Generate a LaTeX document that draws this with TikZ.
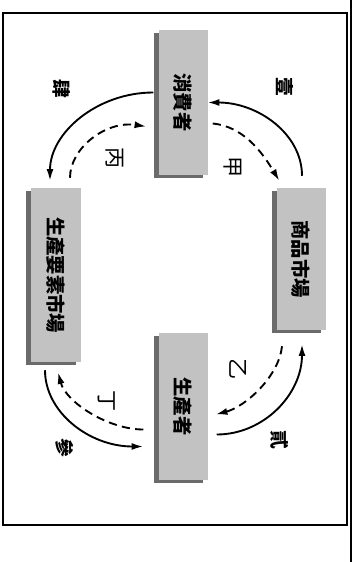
\documentclass[tikz,border=0pt]{standalone}
\usepackage{fontspec}
\usepackage{graphicx}
\newfontfamily\tcfont{Noto Sans CJK TC}
\usetikzlibrary{calc,shadows,arrows.meta}

\tikzset{
  sector/.style={fill=black!24,inner sep=0pt,minimum width=1.47cm,
    drop shadow={shadow xshift=-0.15cm,shadow yshift=-0.09cm,fill=black!58,opacity=1},
    font=\tcfont\bfseries\fontsize{16.5}{16.5}\selectfont},
  flow/.style={line width=1.6pt,-{Latex[length=10pt,width=6pt]}},
  pay/.style={flow,dash pattern=on 7pt off 4.5pt},
  num/.style={rotate=-90,font=\tcfont\bfseries\fontsize{16}{16}\selectfont},
  tag/.style={rotate=-90,font=\tcfont\fontsize{18}{18}\selectfont},
}

\begin{document}
\begin{tikzpicture}[x=0.03cm,y=-0.03cm]
\useasboundingbox (0,0) rectangle (358,562);

% frame
\draw[line width=1.8pt] (3,13) rectangle (347,525);
\draw[line width=1.2pt] (351,0) -- (351,562);

% sectors
\node[sector,minimum height=4.35cm] (cons) at (183,102.5) {\rotatebox{-90}{消費者}};
\node[sector,minimum height=4.26cm] (mkt) at (301,259) {\rotatebox{-90}{商品市場}};
\node[sector,minimum height=4.41cm] (prod) at (183,406.5) {\rotatebox{-90}{生產者}};
\node[sector,minimum height=5.22cm] (fac) at (56,275) {\rotatebox{-90}{生產要素市場}};

% outer flows
\draw[flow] ($(mkt.north)+(1,-12)$) .. controls +(0,-42) and +(50,0) .. (cons.east);
\draw[flow] ($(cons.west)+(-5,-10)$) .. controls +(-56,0) and +(0,-48) .. ($(fac.north)+(-6,-7)$);
\draw[flow] ($(fac.south)+(-11,8)$) .. controls +(0,42) and +(-54,0) .. ($(prod.west)+(-15,40)$);
\draw[flow] ($(prod.east)+(9,28)$) .. controls +(47,0) and +(0,50) .. ($(mkt.south)+(1,14)$);

% inner flows
\draw[pay] ($(cons.east)+(5,21)$) .. controls +(30,3) and +(-18,-30) .. ($(mkt.north west)+(3,-7)$);
\draw[pay] ($(fac.north)+(14,-10)$) .. controls +(0,-30) and +(-40,-6) .. ($(cons.west)+(-12,24)$);
\draw[pay] ($(mkt.south)+(-19,16)$) .. controls +(-3,30) and +(30,-8) .. ($(prod.east)+(8,8)$);
\draw[pay] ($(prod.west)+(-15,23)$) .. controls +(-35,0) and +(8,30) .. ($(fac.south)+(2,10)$);

% labels
\node[num] (n1) at (285,87) {壹};
\node[num] (n2) at (280,440) {貳};
\node[num] (n3) at (65,448) {參};
\node[num] (n4) at (62,89) {肆};
\node[tag] (t1) at (233,167) {甲};
\node[tag] (t2) at (238,369) {乙};
\node[tag] (t3) at (115,158) {丙};
\node[tag] (t4) at (107,401) {丁};
\end{tikzpicture}
\end{document}
